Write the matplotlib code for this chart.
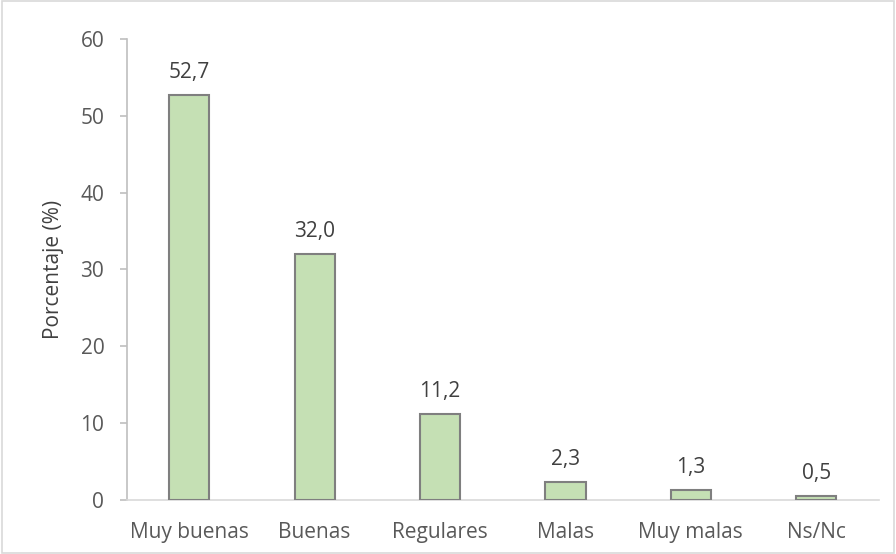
import matplotlib
matplotlib.use("Agg")
import matplotlib.pyplot as plt
from matplotlib.patches import Rectangle

plt.rcParams["font.family"] = ["Open Sans", "DejaVu Sans"]

categories = ["Muy buenas", "Buenas", "Regulares", "Malas", "Muy malas", "Ns/Nc"]
values = [52.7, 32.0, 11.2, 2.3, 1.3, 0.5]
yticks = [0, 10, 20, 30, 40, 50, 60]

text_color = "#595959"
fs = 15

fig = plt.figure(figsize=(8.96, 5.54), dpi=100)
ax = fig.add_axes([0.1412, 0.0975, 0.8398, 0.8321])

x = range(len(categories))
ax.bar(x, values, width=0.32, color="#C5E0B4", edgecolor="#7F7F7F", linewidth=1.5, zorder=3)

for xi, v in zip(x, values):
    ax.text(xi, v + 1.6, f"{v:.1f}".replace(".", ","), ha="center", va="bottom",
            fontsize=fs, color="#404040")

ax.set_xlim(-0.5, len(categories) - 0.5)
ax.set_ylim(0, 60)
ax.set_yticks(yticks)
ax.set_xticks(list(x))
ax.set_xticklabels(categories)

ax.spines["top"].set_visible(False)
ax.spines["right"].set_visible(False)
ax.spines["left"].set_color("#BFBFBF")
ax.spines["bottom"].set_color("#D9D9D9")
ax.spines["left"].set_linewidth(1.2)
ax.spines["bottom"].set_linewidth(1.2)

ax.tick_params(axis="y", length=5, width=1.2, color="#BFBFBF", labelsize=fs,
               labelcolor=text_color, pad=11)
ax.tick_params(axis="x", length=0, labelsize=fs, labelcolor=text_color, pad=16)

ax.set_ylabel("Porcentaje (%)", fontsize=fs, color="#404040", labelpad=12)

fig.patches.append(Rectangle((0.002, 0.002), 0.996, 0.996, transform=fig.transFigure,
                             fill=False, edgecolor="#D9D9D9", linewidth=1.2))

fig.savefig("out.png", dpi=100)
